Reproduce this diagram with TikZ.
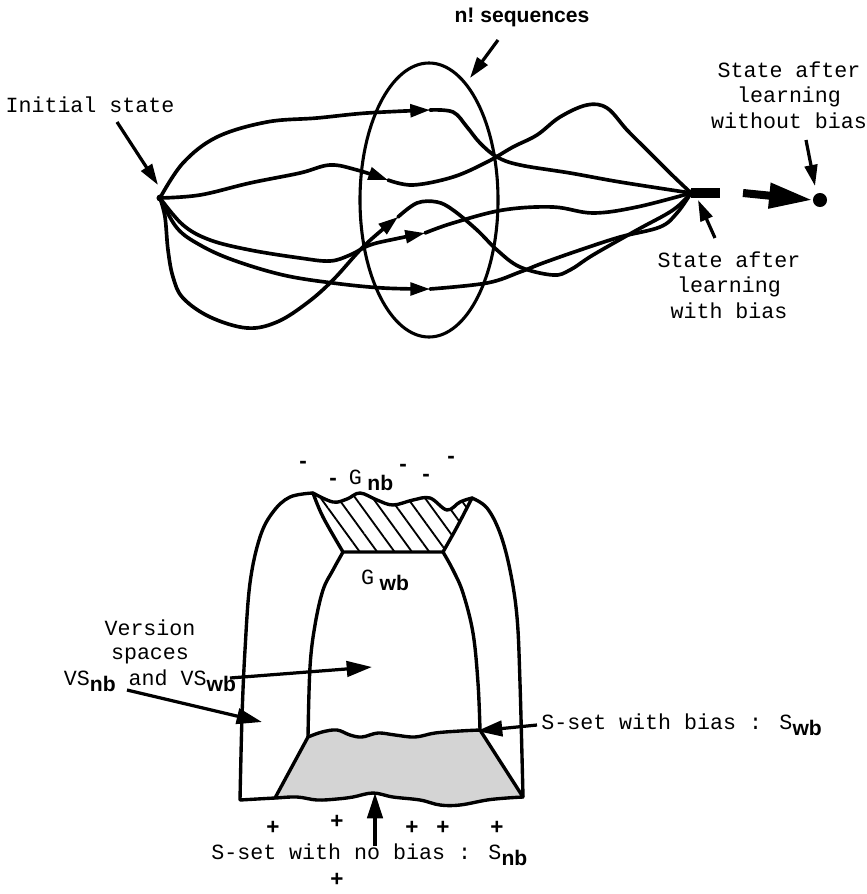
\documentclass[tikz,border=0pt]{standalone}
\usepackage{fontspec}
\usetikzlibrary{arrows.meta,patterns.meta}
\newfontfamily\courier{Liberation Mono}
\newfontfamily\helv{Liberation Sans}
\newcommand\lowsub[1]{\raisebox{-0.55ex}{\helv\bfseries\fontsize{15}{15}\selectfont #1}}

\begin{document}
\begin{tikzpicture}[
    x=0.025cm, y=-0.025cm,
    curve/.style={draw=black, line width=2.6pt, line join=round, line cap=round},
    flowtip/.style={-{Triangle[length=14pt,width=9pt]}},
    rim/.style={draw=black, line width=2.4pt, line join=round, line cap=round},
    pointer/.style={draw=black, line width=2.3pt, -{Triangle[length=15pt,width=9pt]}},
    bigpointer/.style={draw=black, line width=2.3pt, -{Triangle[length=18pt,width=11pt]}},
    mono/.style={font=\courier\fontsize{15.4}{18.2}\selectfont, align=center, inner sep=0pt},
    signmark/.style={font=\helv\bfseries\fontsize{16}{16}\selectfont, inner sep=0pt},
    statedot/.style={circle, fill=black, inner sep=0pt, minimum size=5pt},
  ]

  \useasboundingbox (0,0) rectangle (867,894);

  % Upper picture: the n! orderings of the examples, all ending in one state.
  \node[statedot] (init) at (160,198) {};
  \node[statedot] (final) at (691,193) {};
  \node[circle, fill=black, inner sep=0pt, minimum size=10pt] (nobias) at (820,200) {};

  \draw[rim, line width=2.2pt] (429,200) ellipse [x radius=69, y radius=137];

  \coordinate (tipA) at (430,110);
  \coordinate (tipB) at (388,180);
  \coordinate (tipC) at (425,233);
  \coordinate (tipD) at (430,289);
  \coordinate (tipE) at (398,217);

  \draw[curve, flowtip] plot[smooth, tension=0.6] coordinates
    {(init) (183,163) (217,137) (267,122) (317,118) (367,113) (tipA)};
  \draw[curve] plot[smooth, tension=0.6] coordinates
    {(tipA) (453,112) (467,127) (480,143) (497,157) (520,165) (570,173) (620,182) (final)};

  \draw[curve, flowtip] plot[smooth, tension=0.6] coordinates
    {(init) (200,195) (250,183) (300,173) (330,165) (357,170) (tipB)};
  \draw[curve] plot[smooth, tension=0.6] coordinates
    {(tipB) (413,185) (453,177) (487,162) (513,147) (537,135) (560,117) (587,105)
     (607,108) (627,130) (647,150) (670,173) (final)};

  \draw[curve, flowtip] plot[smooth, tension=0.6] coordinates
    {(init) (183,225) (210,240) (250,250) (300,258) (330,261) (350,255) (370,245) (395,239) (tipC)};
  \draw[curve] plot[smooth, tension=0.6] coordinates
    {(tipC) (453,223) (503,210) (553,207) (593,213) (637,207) (final)};

  \draw[curve, flowtip] plot[smooth, tension=0.6] coordinates
    {(init) (177,228) (200,245) (233,260) (283,275) (333,283) (383,288) (tipD)};
  \draw[curve] plot[smooth, tension=0.6] coordinates
    {(tipD) (487,283) (520,272) (543,263) (580,250) (620,237) (660,227) (677,213) (final)};

  \draw[curve, flowtip] plot[smooth, tension=0.6] coordinates
    {(init) (165,217) (168,250) (173,277) (183,298) (210,317) (247,328) (277,322)
     (307,303) (333,280) (365,245) (tipE)};
  \draw[curve] plot[smooth, tension=0.6] coordinates
    {(tipE) (417,203) (437,202) (453,210) (477,230) (497,250) (520,267) (553,275)
     (570,270) (593,255) (637,230) (673,210) (final)};

  % Thick stub and the jump to the unbiased state.
  \coordinate (stubend) at (720,193);
  \coordinate (jumpstart) at (743,193);
  \draw[line width=7pt] (final.center) -- (stubend);
  \draw[line width=5.7pt, -{Triangle[length=31pt,width=17pt]}] (jumpstart) -- (nobias.west);

  \node[font=\helv\bfseries\fontsize{15}{15}\selectfont, inner sep=0pt] (seqlbl) at (522,17) {n!\ sequences};
  \node[mono] (initlbl) at (90,105) {Initial state};
  \node[mono] (nobiaslbl) at (789,95) {State after\\learning\\without bias};
  \node[mono] (biaslbl) at (729,285) {State after\\learning\\with bias};

  \coordinate (seqtail) at (498,40);
  \coordinate (seqtip) at (470,78);
  \coordinate (inittail) at (117,122);
  \coordinate (inittip) at (158,185);
  \coordinate (nobiastail) at (806,140);
  \coordinate (nobiastip) at (815,186);
  \coordinate (biastail) at (715,238);
  \coordinate (biastip) at (698,200);
  \draw[pointer] (seqtail) -- (seqtip);
  \draw[pointer] (inittail) -- (inittip);
  \draw[pointer] (nobiastail) -- (nobiastip);
  \draw[pointer] (biastail) -- (biastip);

  % Lower picture: version spaces with and without bias.
  \fill[black!17] plot[smooth, tension=0.6] coordinates
      {(308,737) (322,732) (337,730) (350,735) (362,737) (378,733) (395,735) (415,737)
       (435,733) (460,731) (480,730)}
    -- (523,797)
    -- plot[smooth, tension=0.6] coordinates
      {(523,797) (507,798) (487,800) (460,805) (440,805) (420,800) (393,797) (373,793)
       (353,797) (337,799) (317,800) (297,797) (275,798)}
    -- cycle;

  \path[pattern={Lines[angle=-54,distance=10pt,line width=1.3pt]}]
    plot[smooth, tension=0.6] coordinates
      {(313,493) (333,502) (347,499) (360,493) (377,500) (393,505) (413,500) (430,498)
       (447,510) (460,502) (472,498)}
    -- plot[smooth, tension=0.6] coordinates {(472,498) (457,527) (443,552)}
    -- (343,552)
    -- plot[smooth, tension=0.6] coordinates {(343,552) (323,517) (313,493)}
    -- cycle;

  % outer boundary
  \draw[rim] plot[smooth, tension=0.6] coordinates
      {(240,800) (242,717) (245,650) (250,583) (260,537) (273,512) (290,497) (313,493)}
    -- plot[smooth, tension=0.6] coordinates
      {(313,493) (333,502) (347,499) (360,493) (377,500) (393,505) (413,500) (430,498)
       (447,510) (460,502) (472,498)}
    -- plot[smooth, tension=0.6] coordinates
      {(472,498) (487,508) (500,533) (510,570) (517,617) (520,683) (523,797)}
    -- plot[smooth, tension=0.6] coordinates
      {(523,797) (507,798) (487,800) (460,805) (440,805) (420,800) (393,797) (373,793)
       (353,797) (337,799) (317,800) (297,797) (275,798) (240,800)};

  % G-set with bias and the inner version space
  \draw[rim] plot[smooth, tension=0.6] coordinates {(313,493) (323,517) (343,552)}
    -- (443,552)
    -- plot[smooth, tension=0.6] coordinates {(443,552) (457,527) (472,498)};
  \draw[rim] plot[smooth, tension=0.6] coordinates
    {(343,552) (333,570) (323,590) (315,625) (310,667) (308,737)};
  \draw[rim] plot[smooth, tension=0.6] coordinates
    {(443,552) (453,570) (463,593) (473,633) (478,683) (480,730)};

  % S-set with bias
  \draw[rim] (275,798) -- plot[smooth, tension=0.6] coordinates
      {(308,737) (322,732) (337,730) (350,735) (362,737) (378,733) (395,735) (415,737)
       (435,733) (460,731) (480,730)}
    -- (523,797);

  % negative and positive examples
  \node[signmark] (neg1) at (303,465) {-};
  \node[signmark] (neg2) at (333,482) {-};
  \node[signmark] (neg3) at (403,468) {-};
  \node[signmark] (neg4) at (426,478) {-};
  \node[signmark] (neg5) at (451,460) {-};
  \node[signmark] (pos1) at (273,828) {+};
  \node[signmark] (pos2) at (337,822) {+};
  \node[signmark] (pos3) at (412,828) {+};
  \node[signmark] (pos4) at (443,828) {+};
  \node[signmark] (pos5) at (497,828) {+};
  \node[signmark] (pos6) at (337,880) {+};

  \node[mono] (gnblbl) at (371,480) {G\hspace{4pt}\lowsub{nb}};
  \node[mono] (gwblbl) at (385,580) {G\hspace{4pt}\lowsub{wb}};
  \node[mono, font=\courier\fontsize{15.4}{16.5}\selectfont] (vslbl) at (150,656)
    {Version\\spaces\\[2pt]VS\lowsub{nb} and VS\lowsub{wb}};
  \node[mono, anchor=west] (swblbl) at (541,725) {S-set with bias : S\lowsub{wb}};
  \node[mono, anchor=west] (snblbl) at (211,855) {S-set with no bias : S\lowsub{nb}};

  \coordinate (vsnbtail) at (127,690);
  \coordinate (vsnbtip) at (262,722);
  \coordinate (vswbtail) at (230,678);
  \coordinate (vswbtip) at (372,667);
  \coordinate (swbtail) at (537,725);
  \coordinate (swbtip) at (477,731);
  \coordinate (snbtail) at (375,846);
  \coordinate (snbtip) at (375,793);
  \draw[bigpointer] (vsnbtail) -- (vsnbtip);
  \draw[bigpointer] (vswbtail) -- (vswbtip);
  \draw[bigpointer] (swbtail) -- (swbtip);
  \draw[bigpointer] (snbtail) -- (snbtip);
\end{tikzpicture}
\end{document}
